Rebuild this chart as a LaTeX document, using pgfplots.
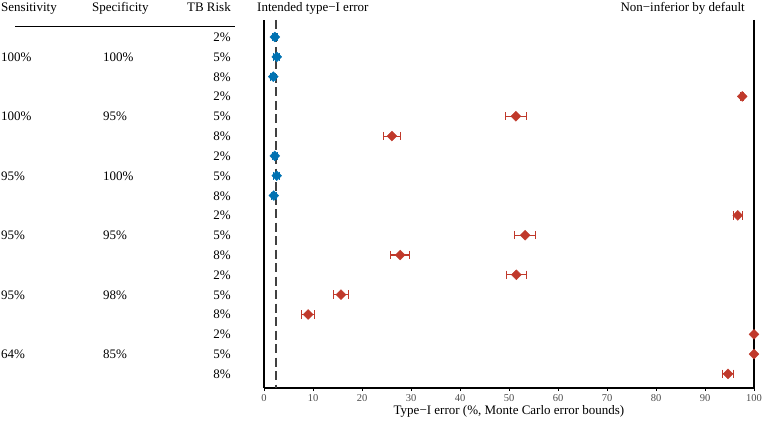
\documentclass[border=0pt]{standalone}
\usepackage{fontspec}
\setmainfont{Liberation Serif}
\usepackage{pgfplots}
\usepackage{pgfplotstable}
\pgfplotsset{compat=1.18}
\definecolor{myred}{RGB}{192,57,43}
\definecolor{myblue}{RGB}{0,114,178}
\pgfplotstableread{
x y e
97.6 -4 0.3
51.4 -5 2.1
26.1 -6 1.8
96.7 -10 0.9
53.3 -11 2.1
27.8 -12 1.9
51.5 -13 2.0
15.7 -14 1.6
9.0 -15 1.3
100 -16 0.0
100 -17 0.0
94.7 -18 1.1
}\reddata
\pgfplotstableread{
x y e
2.2 -1 0.5
2.6 -2 0.6
1.9 -3 0.5
2.2 -7 0.5
2.6 -8 0.6
2.0 -9 0.5
}\bluedata
\begin{document}
\begin{tikzpicture}[x=1pt,y=1pt,every node/.style={font=\fontsize{13}{15}\selectfont}]
\path[use as bounding box] (0,0) rectangle (764,-425);
\begin{axis}[
  at={(264pt,-388pt)}, anchor=south west,
  scale only axis, width=490pt, height=368pt,
  xmin=0, xmax=100, ymin=-18.71, ymax=-0.142,
  axis x line*=bottom, axis y line*=left,
  axis line style={line width=1.1pt},
  xtick={0,10,...,100}, ytick=\empty,
  tick align=outside, major tick length=3pt,
  x tick style={line width=0.8pt, black},
  x tick label style={font=\fontsize{10.5}{12}\selectfont, text=black!70},
  /pgf/number format/assume math mode=true,
  xlabel={Type−I error (\%, Monte Carlo error bounds)},
  xlabel style={font=\fontsize{13}{15}\selectfont, yshift=3pt},
  clip=false,
]
\addplot[black, line width=1.1pt] coordinates {(100,-0.142) (100,-18.71)};
\addplot[black!75, line width=1.6pt, dash pattern=on 9pt off 4.5pt] coordinates {(2.5,-0.142) (2.5,-18.71)};
% red
\addplot[only marks, mark=|, mark size=4.2pt, myred, line width=1.1pt] table[x expr=\thisrow{x}-\thisrow{e}, y=y] {\reddata};
\addplot[only marks, mark=|, mark size=4.2pt, myred, line width=1.1pt] table[x expr=\thisrow{x}+\thisrow{e}, y=y] {\reddata};
\addplot[only marks, mark=square*, mark size=3.5pt, color=myred,
  mark options={rotate=45, fill=myred, draw=myred},
  error bars/.cd, x dir=both, x explicit, error mark=none,
  error bar style={line width=1.1pt, myred}]
  table[x=x, y=y, x error=e] {\reddata};
% blue
\addplot[only marks, mark=|, mark size=4pt, myblue, line width=1.1pt] table[x expr=\thisrow{x}-\thisrow{e}, y=y] {\bluedata};
\addplot[only marks, mark=|, mark size=4pt, myblue, line width=1.1pt] table[x expr=\thisrow{x}+\thisrow{e}, y=y] {\bluedata};
\addplot[only marks, mark=square*, mark size=3.5pt, color=myblue,
  mark options={rotate=45, fill=myblue, draw=myblue},
  error bars/.cd, x dir=both, x explicit, error mark=none,
  error bar style={line width=1.1pt, myblue}]
  table[x=x, y=y, x error=e] {\bluedata};
\end{axis}
\node[anchor=base west, inner sep=0] at (1,-12) {Sensitivity};
\node[anchor=base west, inner sep=0] at (92,-12) {Specificity};
\node[anchor=base east, inner sep=0] at (231,-12) {TB Risk};
\node[anchor=base west, inner sep=0] at (257,-12) {Intended type−I error};
\node[anchor=base east, inner sep=0] at (745,-12) {Non−inferior by default};
\draw[line width=1pt] (15,-27) -- (235,-27);
\foreach \i/\t in {1/2,2/5,3/8,4/2,5/5,6/8,7/2,8/5,9/8,10/2,11/5,12/8,13/2,14/5,15/8,16/2,17/5,18/8}
  \node[anchor=base east, inner sep=0] at (231,{-(41.5+(\i-1)*19.82)}) {\t\%};
\foreach \i/\a/\b in {2/100/100,5/100/95,8/95/100,11/95/95,14/95/98,17/64/85}
 {\node[anchor=base west, inner sep=0] at (1,{-(41.5+(\i-1)*19.82)}) {\a\%};
  \node[anchor=base west, inner sep=0] at (103,{-(41.5+(\i-1)*19.82)}) {\b\%};}
\end{tikzpicture}
\end{document}
